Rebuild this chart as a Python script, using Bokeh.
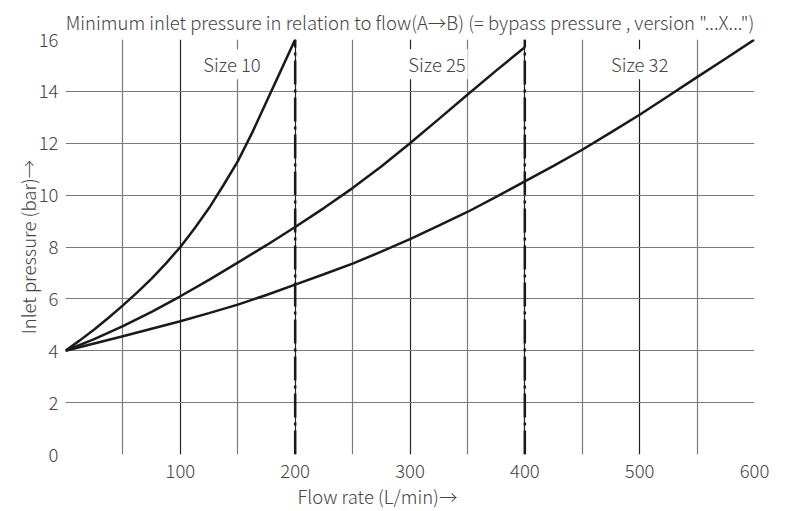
from bokeh.plotting import figure
from bokeh.models import FixedTicker, Range1d, Label, Title
from bokeh.embed import file_html
from bokeh.resources import INLINE

# ---- data ----
size10_x = [0, 12.5, 25, 37.5, 50, 62.5, 75, 87.5, 100, 112.5, 125, 137.5, 150, 162.5, 175, 187.5, 200]
size10_y = [4.0, 4.4, 4.82, 5.27, 5.75, 6.25, 6.78, 7.37, 8.0, 8.72, 9.5, 10.38, 11.3, 12.4, 13.6, 14.8, 16.0]

size25_x = [0, 25, 50, 75, 100, 125, 150, 175, 200, 225, 250, 275, 300, 325, 350, 375, 400]
size25_y = [4.0, 4.45, 4.95, 5.5, 6.1, 6.73, 7.4, 8.07, 8.77, 9.5, 10.27, 11.1, 12.0, 12.93, 13.87, 14.8, 15.7]

size32_x = [0, 25, 50, 75, 100, 125, 150, 175, 200, 225, 250, 275, 300, 325, 350, 375, 400,
            425, 450, 475, 500, 525, 550, 575, 600]
size32_y = [4.0, 4.28, 4.56, 4.85, 5.14, 5.45, 5.78, 6.15, 6.55, 6.95, 7.36, 7.82, 8.3, 8.82, 9.35,
            9.93, 10.53, 11.13, 11.75, 12.42, 13.1, 13.82, 14.55, 15.27, 16.0]

limit_x = [200, 400]
limit_y0 = [0, 0]
limit_y1 = [16, 16]

labels = ["Size 10", "Size 25", "Size 32"]
label_x = [145, 323.5, 500]
label_y = [15.05, 15.05, 15.05]

x_ticks = [100, 200, 300, 400, 500, 600]
x_grid_major = [0, 100, 200, 300, 400, 500, 600]
x_grid_minor = [50, 150, 250, 350, 450, 550]
y_ticks = [0, 2, 4, 6, 8, 10, 12, 14, 16]

title_text = 'Minimum inlet pressure in relation to flow(A\u2192B) (= bypass pressure , version "...X...")'
x_title = "Flow rate (L/min)\u2192"
y_title = "Inlet pressure (bar)\u2192"

FONT = "'Noto Sans CJK JP Light', 'Noto Sans CJK JP'"
TXT = "#444444"
FS = "18.5px"

p = figure(width=788, height=511, output_backend="svg", toolbar_location=None,
           x_range=Range1d(0, 600), y_range=Range1d(0, 16),
           min_border_left=65, min_border_right=34, min_border_top=39, min_border_bottom=57,
           title=title_text)
p.outline_line_color = None
p.background_fill_color = "white"

p.title.align = "center"
p.title.text_font = FONT
p.title.text_font_size = FS
p.title.text_font_style = "normal"
p.title.text_color = TXT
p.title.standoff = 10

# grids
p.xgrid.ticker = FixedTicker(ticks=x_grid_major, minor_ticks=x_grid_minor)
p.xgrid.grid_line_color = "#222222"
p.xgrid.grid_line_width = 1.2
p.xgrid.minor_grid_line_color = "#7a7a7a"
p.xgrid.minor_grid_line_width = 1.2
p.ygrid.ticker = FixedTicker(ticks=y_ticks)
p.ygrid.grid_line_color = "#7a7a7a"
p.ygrid.grid_line_width = 1.2

# axes
p.xaxis.ticker = FixedTicker(ticks=x_ticks)
p.yaxis.ticker = FixedTicker(ticks=y_ticks)
for ax in (p.xaxis, p.yaxis):
    ax.axis_line_color = None
    ax.major_tick_line_color = None
    ax.minor_tick_line_color = None
    ax.major_tick_out = 0
    ax.major_tick_in = 0
    ax.minor_tick_out = 0
    ax.minor_tick_in = 0
    ax.major_label_text_font = FONT
    ax.major_label_text_font_size = FS
    ax.major_label_text_color = TXT
p.xaxis.major_label_standoff = 9
p.yaxis.major_label_standoff = 7

p.yaxis.axis_label = y_title
p.yaxis.axis_label_text_font = FONT
p.yaxis.axis_label_text_font_size = FS
p.yaxis.axis_label_text_font_style = "normal"
p.yaxis.axis_label_text_color = TXT
p.yaxis.axis_label_standoff = -5

xt = Title(text=x_title, align="left", offset=232, standoff=0, text_line_height=0.75,
           text_font=FONT, text_font_size=FS, text_font_style="normal", text_color=TXT)
p.add_layout(xt, "below")

# limit lines
p.segment(x0=limit_x, y0=limit_y0, x1=limit_x, y1=limit_y1,
          line_color="#1a1a1a", line_width=2.5, line_dash="24 5 3 5")

# curves
for xs, ys in ((size10_x, size10_y), (size25_x, size25_y), (size32_x, size32_y)):
    p.line(xs, ys, line_color="#1a1a1a", line_width=2.5)

# size labels
for t, lx, ly in zip(labels, label_x, label_y):
    p.add_layout(Label(x=lx, y=ly, text=t, text_align="center", text_baseline="middle",
                       text_font=FONT, text_font_size=FS, text_color=TXT,
                       background_fill_color="white", padding=2))

open("out.html", "w").write(file_html(p, INLINE))
